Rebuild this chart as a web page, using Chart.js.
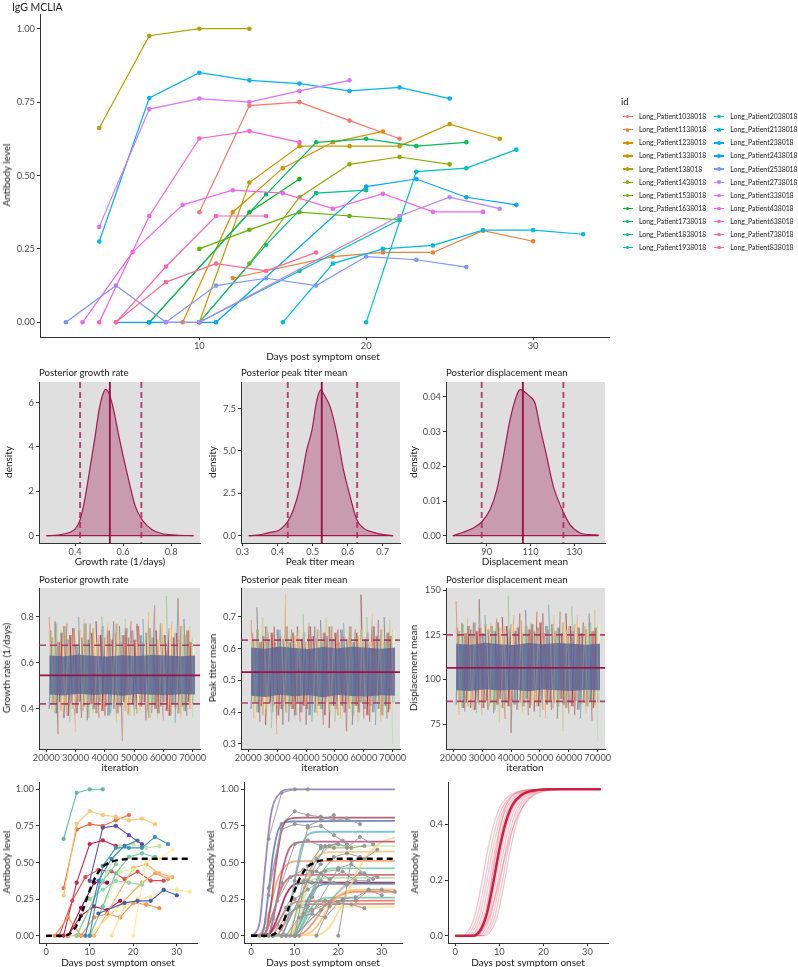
<!DOCTYPE html>
<html>
<head>
<meta charset="utf-8">
<script src="https://cdn.jsdelivr.net/npm/chart.js@4.4.1/dist/chart.umd.min.js"></script>
<style>
  body { margin: 0; background: #fff; }
  #page { position: relative; width: 798px; height: 967px; overflow: hidden; font-family: Lato, sans-serif; }
  #page canvas { position: absolute; }
  .t { position: absolute; white-space: nowrap; color: #1a1a1a; line-height: 1; }
  .leg { position: absolute; white-space: nowrap; font-size: 6.9px; color: #222; line-height: 1; }
  .key { position: absolute; width: 10px; height: 1.3px; }
  .dot { position: absolute; width: 3.6px; height: 3.6px; border-radius: 50%; }
</style>
</head>
<body>
<div id="page"></div>
<script>
// ---- patient data (top panel and bottom-left / bottom-middle panels) ----
const patientIds = [
  'Long_Patient1038018', 'Long_Patient1138018', 'Long_Patient1238018', 'Long_Patient1338018',
  'Long_Patient138018', 'Long_Patient1438018', 'Long_Patient1538018', 'Long_Patient1638018',
  'Long_Patient1738018', 'Long_Patient1838018', 'Long_Patient1938018', 'Long_Patient2038018',
  'Long_Patient2138018', 'Long_Patient238018', 'Long_Patient2438018', 'Long_Patient2538018',
  'Long_Patient2738018', 'Long_Patient338018', 'Long_Patient438018', 'Long_Patient638018',
  'Long_Patient738018', 'Long_Patient838018'
];
const patientDays = [
  [10, 13, 16, 19, 22],
  [12, 18, 21, 24, 27, 30],
  [9, 12, 15, 18, 21],
  [10, 13, 16, 19, 22, 25, 28],
  [4, 7, 10, 13],
  [10, 13, 16, 19, 22, 25],
  [10, 13, 16, 19, 22],
  [7, 13, 16],
  [7, 14, 17, 20, 23, 26],
  [10, 14, 17, 20],
  [10, 16, 22],
  [20, 23, 26, 29],
  [15, 18, 21, 24, 27, 30, 33],
  [4, 7, 10, 13, 16, 19, 22, 25],
  [5, 7, 11, 20, 23, 26, 29],
  [2, 5, 8, 11, 14, 17, 20, 23, 26],
  [8, 10, 22, 25, 28],
  [4, 7, 10, 13, 16, 19],
  [3, 6, 9, 12, 15, 18, 21, 24, 27],
  [4, 7, 10, 13, 16],
  [5, 8, 11, 14],
  [5, 8, 11, 14, 17]
];
const patientLevels = [
  [0.375, 0.738, 0.75, 0.687, 0.625],
  [0.151, 0.224, 0.238, 0.238, 0.312, 0.276],
  [0, 0.375, 0.525, 0.613, 0.65],
  [0, 0.476, 0.6, 0.6, 0.6, 0.675, 0.625],
  [0.662, 0.976, 1, 1],
  [0, 0.2, 0.426, 0.538, 0.563, 0.538],
  [0.25, 0.315, 0.375, 0.362, 0.349],
  [0, 0.375, 0.488],
  [0, 0.436, 0.613, 0.625, 0.6, 0.613],
  [0, 0.264, 0.44, 0.45],
  [0, 0.175, 0.349],
  [0, 0.513, 0.525, 0.588],
  [0, 0.2, 0.25, 0.262, 0.314, 0.314, 0.3],
  [0.275, 0.764, 0.85, 0.824, 0.813, 0.788, 0.8, 0.762],
  [0, 0, 0, 0.462, 0.488, 0.426, 0.4],
  [0, 0.125, 0, 0.125, 0.15, 0.125, 0.224, 0.213, 0.188],
  [0, 0, 0.362, 0.426, 0.387],
  [0.325, 0.726, 0.762, 0.75, 0.788, 0.824],
  [0, 0.239, 0.4, 0.45, 0.44, 0.387, 0.438, 0.376, 0.376],
  [0, 0.362, 0.626, 0.651, 0.613],
  [0, 0.19, 0.362, 0.362],
  [0, 0.137, 0.2, 0.175, 0.238]
];
const patientSpectral = [
  '#5E4FA2', '#3F60AE', '#3A7EB9', '#3D95B8', '#5CB8A6', '#70C6A4', '#96D4A4', '#85CEA4',
  '#C2E5A0', '#DCF19A', '#F2FAAE', '#FEF0A0', '#FEE493', '#FDC574', '#FDB266', '#F8904F',
  '#FA9F5B', '#F26B43', '#DF4A4E', '#C72A48', '#9E0142', '#B01A47'
];

// ---- posterior densities ----
const growthX = [0.281, 0.33, 0.37, 0.395, 0.41, 0.422, 0.44, 0.46, 0.481, 0.502, 0.515, 0.527, 0.54, 0.558, 0.586, 0.617, 0.651, 0.679, 0.721, 0.76, 0.82, 0.893];
const growthDensity = [0, 0.03, 0.12, 0.25, 0.45, 0.75, 1.6, 2.9, 4.3, 5.8, 6.35, 6.6, 6.45, 5.8, 4.3, 2.8, 1.32, 0.72, 0.27, 0.1, 0.03, 0];
const growthQuant = [0.421, 0.545, 0.676];
const peakX = [0.3176, 0.34, 0.36, 0.379, 0.403, 0.417, 0.429, 0.445, 0.464, 0.483, 0.498, 0.512, 0.524, 0.531, 0.55, 0.569, 0.588, 0.607, 0.626, 0.645, 0.673, 0.702, 0.7297];
const peakDensity = [0, 0.03, 0.1, 0.2, 0.31, 0.55, 0.84, 1.53, 2.9, 5.05, 6.23, 8.0, 8.62, 8.38, 7.6, 6.03, 3.88, 2.31, 0.94, 0.45, 0.2, 0.06, 0];
const peakQuant = [0.429, 0.526, 0.627];
const dispX = [74.5, 79.3, 83.9, 87.9, 91.5, 94.6, 97.6, 100.6, 103.7, 105.2, 106.7, 109, 112.1, 114.3, 117.4, 120.4, 124.2, 128, 132.6, 137, 141.1];
const dispDensity = [0, 0.001, 0.0022, 0.0041, 0.0075, 0.0132, 0.0228, 0.0333, 0.0405, 0.0421, 0.0417, 0.0405, 0.0381, 0.0314, 0.0228, 0.0142, 0.0079, 0.0032, 0.0008, 0.0003, 0.0002];
const dispQuant = [87.7, 106.5, 125.0];

// ---- MCMC traces (sampled extremes per iteration block) ----
const traceIterA = [21000, 22000, 23000, 24000, 25000, 26000, 27000, 28000, 29000, 30000, 31000, 32000, 33000, 34000, 35000, 36000, 37000, 38000, 39000, 40000, 41000, 42000, 43000, 44000, 45000, 46000, 47000, 48000, 49000, 50000, 51000, 52000, 53000, 54000, 55000, 56000, 57000, 58000, 59000, 60000, 61000, 62000, 63000, 64000, 65000, 66000, 67000, 68000, 69000, 70000];
const traceIterB = [21500, 22500, 23500, 24500, 25500, 26500, 27500, 28500, 29500, 30500, 31500, 32500, 33500, 34500, 35500, 36500, 37500, 38500, 39500, 40500, 41500, 42500, 43500, 44500, 45500, 46500, 47500, 48500, 49500, 50500, 51500, 52500, 53500, 54500, 55500, 56500, 57500, 58500, 59500, 60500, 61500, 62500, 63500, 64500, 65500, 66500, 67500, 68500, 69500, 70500];
const coreIter = [21000, 26000, 31000, 36000, 41000, 46000, 51000, 56000, 61000, 66000, 70800];

const growthHi = [0.80, 0.76, 0.78, 0.84, 0.74, 0.79, 0.77, 0.81, 0.75, 0.78, 0.80, 0.76, 0.79, 0.82, 0.77, 0.85, 0.78, 0.76, 0.80, 0.79, 0.77, 0.81, 0.78, 0.80, 0.76, 0.82, 0.79, 0.89, 0.78, 0.80, 0.77, 0.81, 0.79, 0.76, 0.82, 0.78, 0.85, 0.80, 0.77, 0.79, 0.89, 0.81, 0.78, 0.80, 0.88, 0.77, 0.79, 0.81, 0.76, 0.78];
const growthLo = [0.37, 0.39, 0.35, 0.29, 0.38, 0.36, 0.40, 0.34, 0.37, 0.30, 0.38, 0.36, 0.39, 0.35, 0.37, 0.38, 0.34, 0.36, 0.39, 0.37, 0.35, 0.38, 0.36, 0.34, 0.37, 0.26, 0.36, 0.38, 0.35, 0.37, 0.36, 0.39, 0.28, 0.35, 0.37, 0.38, 0.34, 0.36, 0.38, 0.35, 0.31, 0.37, 0.36, 0.34, 0.38, 0.36, 0.33, 0.37, 0.38, 0.36];
const growthHi2 = [0.74, 0.71, 0.77, 0.69, 0.73, 0.76, 0.70, 0.72, 0.75, 0.68, 0.74, 0.71, 0.77, 0.70, 0.73, 0.75, 0.69, 0.72, 0.76, 0.71, 0.74, 0.70, 0.73, 0.77, 0.69, 0.72, 0.75, 0.71, 0.74, 0.70, 0.76, 0.72, 0.69, 0.73, 0.75, 0.71, 0.74, 0.70, 0.77, 0.72, 0.69, 0.75, 0.71, 0.73, 0.70, 0.76, 0.72, 0.74, 0.69, 0.71];
const growthLo2 = [0.40, 0.42, 0.38, 0.43, 0.39, 0.41, 0.37, 0.42, 0.40, 0.38, 0.43, 0.39, 0.41, 0.36, 0.42, 0.40, 0.38, 0.43, 0.39, 0.41, 0.37, 0.42, 0.40, 0.38, 0.41, 0.43, 0.39, 0.37, 0.42, 0.40, 0.38, 0.41, 0.43, 0.39, 0.36, 0.42, 0.40, 0.38, 0.41, 0.43, 0.39, 0.37, 0.42, 0.40, 0.38, 0.41, 0.39, 0.43, 0.40, 0.42];
const growthCoreLo = [0.462, 0.458, 0.465, 0.460, 0.463, 0.457, 0.464, 0.461, 0.459, 0.463, 0.462];
const growthCoreHi = [0.632, 0.628, 0.635, 0.630, 0.627, 0.633, 0.629, 0.634, 0.631, 0.628, 0.632];

const peakHi = [0.69, 0.67, 0.73, 0.66, 0.70, 0.68, 0.65, 0.71, 0.67, 0.69, 0.66, 0.72, 0.77, 0.68, 0.66, 0.70, 0.67, 0.69, 0.71, 0.66, 0.68, 0.70, 0.67, 0.74, 0.69, 0.66, 0.70, 0.68, 0.67, 0.71, 0.66, 0.69, 0.68, 0.70, 0.67, 0.72, 0.66, 0.69, 0.77, 0.68, 0.70, 0.67, 0.71, 0.66, 0.69, 0.68, 0.70, 0.67, 0.69, 0.68];
const peakLo = [0.36, 0.38, 0.34, 0.37, 0.39, 0.36, 0.38, 0.35, 0.37, 0.33, 0.38, 0.36, 0.39, 0.37, 0.35, 0.38, 0.31, 0.37, 0.39, 0.36, 0.38, 0.37, 0.35, 0.39, 0.37, 0.36, 0.38, 0.35, 0.39, 0.37, 0.36, 0.38, 0.37, 0.34, 0.38, 0.36, 0.39, 0.37, 0.36, 0.38, 0.35, 0.37, 0.39, 0.36, 0.38, 0.37, 0.35, 0.38, 0.36, 0.30];
const peakHi2 = [0.65, 0.63, 0.66, 0.62, 0.64, 0.67, 0.63, 0.65, 0.62, 0.66, 0.64, 0.63, 0.67, 0.62, 0.65, 0.64, 0.66, 0.63, 0.65, 0.62, 0.67, 0.64, 0.63, 0.66, 0.62, 0.65, 0.64, 0.67, 0.63, 0.65, 0.62, 0.66, 0.64, 0.63, 0.67, 0.62, 0.65, 0.64, 0.66, 0.63, 0.65, 0.62, 0.67, 0.64, 0.63, 0.66, 0.62, 0.65, 0.64, 0.66];
const peakLo2 = [0.41, 0.43, 0.40, 0.42, 0.39, 0.41, 0.43, 0.40, 0.42, 0.39, 0.41, 0.43, 0.40, 0.42, 0.41, 0.39, 0.43, 0.40, 0.42, 0.41, 0.39, 0.43, 0.40, 0.42, 0.41, 0.39, 0.43, 0.40, 0.42, 0.41, 0.39, 0.42, 0.40, 0.43, 0.41, 0.39, 0.42, 0.40, 0.43, 0.41, 0.39, 0.42, 0.40, 0.43, 0.41, 0.39, 0.42, 0.40, 0.41, 0.43];
const peakCoreLo = [0.452, 0.448, 0.455, 0.450, 0.453, 0.447, 0.454, 0.451, 0.449, 0.453, 0.452];
const peakCoreHi = [0.604, 0.600, 0.607, 0.602, 0.599, 0.605, 0.601, 0.606, 0.603, 0.600, 0.604];

const dispHi = [144, 136, 132, 138, 134, 137, 131, 135, 145, 133, 136, 139, 132, 137, 134, 143, 135, 138, 147, 133, 136, 131, 137, 135, 139, 134, 132, 136, 138, 133, 137, 135, 142, 134, 136, 133, 138, 135, 137, 134, 141, 133, 136, 138, 132, 135, 137, 134, 139, 136];
const dispLo = [74, 80, 78, 82, 77, 84, 79, 81, 73, 80, 78, 83, 77, 81, 79, 76, 82, 78, 80, 70, 79, 83, 77, 81, 78, 80, 76, 82, 73, 79, 81, 78, 77, 83, 80, 78, 82, 71, 79, 81, 77, 80, 83, 78, 79, 81, 80, 77, 79, 65];
const dispHi2 = [129, 127, 131, 126, 130, 128, 132, 127, 129, 126, 131, 128, 130, 127, 132, 129, 126, 130, 128, 131, 127, 129, 133, 126, 130, 128, 131, 127, 129, 132, 126, 130, 128, 131, 127, 129, 126, 132, 128, 130, 127, 131, 129, 126, 130, 128, 132, 127, 129, 131];
const dispLo2 = [86, 88, 84, 87, 85, 89, 83, 87, 86, 84, 88, 85, 87, 83, 86, 89, 84, 87, 85, 88, 86, 83, 87, 85, 89, 84, 86, 88, 85, 87, 83, 86, 88, 84, 87, 85, 89, 86, 84, 87, 85, 88, 83, 86, 87, 85, 88, 84, 86, 87];
const dispCoreLo = [94.0, 93.5, 94.5, 93.8, 94.2, 93.4, 94.4, 93.9, 93.6, 94.3, 94.0];
const dispCoreHi = [120.0, 119.5, 120.6, 119.8, 119.3, 120.4, 119.7, 120.5, 120.1, 119.5, 120.0];

// ---- fitted curves (control points [day, level]) ----
const meanCurve = [[0, 0], [4, 0], [5.5, 0.015], [7, 0.07], [8.5, 0.18], [10, 0.31], [11.5, 0.41], [13, 0.47], [15, 0.505], [18, 0.522], [22, 0.526], [33, 0.526]];
const fitCurves = [
  [[0, 0], [1, 0.02], [2, 0.1], [3.3, 0.5], [4.5, 0.82], [6.5, 0.97], [9, 1], [33, 1]],
  [[0, 0], [3, 0.01], [4.5, 0.2], [5.5, 0.45], [7, 0.72], [9, 0.8], [12, 0.807], [33, 0.807]],
  [[0, 0], [2.5, 0.01], [4, 0.3], [5, 0.55], [6.5, 0.74], [9, 0.78], [33, 0.785]],
  [[0, 0], [7, 0.005], [8.5, 0.12], [10, 0.38], [11.5, 0.6], [13, 0.69], [16, 0.71], [33, 0.71]],
  [[0, 0], [4, 0.01], [5.5, 0.18], [7, 0.42], [8.5, 0.58], [10, 0.63], [13, 0.642], [33, 0.642]],
  [[0, 0], [15, 0.005], [18, 0.06], [21, 0.22], [24, 0.42], [27, 0.56], [30, 0.64], [33, 0.67]],
  [[0, 0], [9, 0.005], [11, 0.1], [13, 0.35], [15, 0.55], [17, 0.605], [20, 0.614], [33, 0.614]],
  [[0, 0], [9, 0.01], [11, 0.15], [13, 0.4], [15, 0.53], [18, 0.57], [33, 0.574]],
  [[0, 0], [2, 0.01], [4, 0.15], [6, 0.38], [8, 0.48], [11, 0.51], [33, 0.512]],
  [[0, 0], [10, 0.005], [12, 0.1], [14, 0.3], [16, 0.43], [19, 0.46], [33, 0.46]],
  [[0, 0], [3, 0.01], [5, 0.15], [7, 0.33], [9, 0.4], [12, 0.415], [33, 0.415]],
  [[0, 0], [8, 0.005], [10, 0.12], [12, 0.3], [14, 0.38], [17, 0.395], [33, 0.395]],
  [[0, 0], [9, 0.005], [11, 0.08], [13, 0.25], [15, 0.33], [18, 0.354], [33, 0.354]],
  [[0, 0], [12, 0.005], [15, 0.06], [18, 0.2], [21, 0.29], [25, 0.315], [33, 0.317]],
  [[0, 0], [10, 0.005], [12, 0.08], [14, 0.2], [16, 0.25], [19, 0.26], [33, 0.26]],
  [[0, 0], [6, 0.01], [8, 0.1], [10, 0.18], [13, 0.215], [33, 0.218]],
  [[0, 0], [8, 0.005], [10, 0.06], [12, 0.15], [14, 0.19], [33, 0.195]],
  [[0, 0], [11, 0.005], [14, 0.08], [17, 0.2], [20, 0.27], [24, 0.3], [33, 0.3]],
  [[0, 0], [4, 0.01], [6, 0.12], [8, 0.28], [10, 0.35], [13, 0.362], [33, 0.362]],
  [[0, 0], [4, 0.01], [6, 0.08], [8, 0.18], [11, 0.235], [33, 0.24]]
];
const fitColors = ['#7E6BB5', '#A8375E', '#4F6DB0', '#66B3C4', '#B8386A', '#FDD780', '#C9E99F', '#FDC272', '#F79A5A', '#66C2A5',
  '#D94A55', '#ABDDA4', '#3E8BC0', '#FDB56A', '#5FBFA0', '#E8695A', '#FEE79A', '#F57D4E', '#9E0142', '#E46050'];
const postCurves = [
  [[0, 0], [1.4, 0], [2.9, 0.015], [4.4, 0.07], [5.9, 0.18], [7.4, 0.31], [8.9, 0.41], [10.4, 0.47], [12.4, 0.505], [15.4, 0.522], [19.4, 0.526], [33, 0.526]],
  [[0, 0], [2, 0], [3.5, 0.015], [5, 0.07], [6.5, 0.18], [8, 0.31], [9.5, 0.41], [11, 0.47], [13, 0.505], [16, 0.522], [20, 0.526], [33, 0.526]],
  [[0, 0], [2.5, 0], [4, 0.015], [5.5, 0.07], [7, 0.18], [8.5, 0.31], [10, 0.41], [11.5, 0.47], [13.5, 0.505], [16.5, 0.522], [20.5, 0.526], [33, 0.526]],
  [[0, 0], [3, 0], [4.5, 0.015], [6, 0.07], [7.5, 0.18], [9, 0.31], [10.5, 0.41], [12, 0.47], [14, 0.505], [17, 0.522], [21, 0.526], [33, 0.526]],
  [[0, 0], [3.5, 0], [5, 0.015], [6.5, 0.07], [8, 0.18], [9.5, 0.31], [11, 0.41], [12.5, 0.47], [14.5, 0.505], [17.5, 0.522], [21.5, 0.526], [33, 0.526]],
  [[0, 0], [4.5, 0], [6, 0.02], [7.2, 0.09], [8.4, 0.22], [9.6, 0.34], [10.8, 0.43], [12, 0.485], [14, 0.515], [17, 0.525], [33, 0.526]],
  [[0, 0], [4.5, 0], [6, 0.015], [7.5, 0.07], [9, 0.18], [10.5, 0.31], [12, 0.41], [13.5, 0.47], [15.5, 0.505], [18.5, 0.522], [22.5, 0.526], [33, 0.526]],
  [[0, 0], [3.5, 0], [5.5, 0.012], [7.3, 0.05], [9.1, 0.14], [10.9, 0.26], [12.7, 0.37], [14.5, 0.44], [17, 0.495], [20, 0.518], [25, 0.526], [33, 0.526]],
  [[0, 0], [5, 0], [6.5, 0.015], [8, 0.07], [9.5, 0.18], [11, 0.31], [12.5, 0.41], [14, 0.47], [16, 0.505], [19, 0.522], [23, 0.526], [33, 0.526]],
  [[0, 0], [5.5, 0], [7, 0.015], [8.5, 0.07], [10, 0.18], [11.5, 0.31], [13, 0.41], [14.5, 0.47], [16.5, 0.505], [19.5, 0.522], [23.5, 0.526], [33, 0.526]],
  [[0, 0], [6, 0], [7.5, 0.015], [9, 0.07], [10.5, 0.18], [12, 0.31], [13.5, 0.41], [15, 0.47], [17, 0.505], [20, 0.522], [24, 0.526], [33, 0.526]],
  [[0, 0], [6.5, 0], [8, 0.015], [9.5, 0.07], [11, 0.18], [12.5, 0.31], [14, 0.41], [15.5, 0.47], [17.5, 0.505], [20.5, 0.522], [24.5, 0.526], [33, 0.526]]
];

// ---- ticks ----
const levelTicks = [0, 0.25, 0.5, 0.75, 1];
const levelLabels = ['0.00', '0.25', '0.50', '0.75', '1.00'];
const dayTicks = [0, 10, 20, 30];
const iterTicks = [20000, 30000, 40000, 50000, 60000, 70000];

const spectral = ['#9E0142', '#D53E4F', '#F46D43', '#FDAE61', '#FEE08B', '#FFFFBF', '#E6F598', '#ABDDA4', '#66C2A5', '#3288BD', '#5E4FA2'];

// ---------- helpers ----------
Chart.defaults.font.family = 'Lato, sans-serif';
const page = document.getElementById('page');
const PAD_L = 46, PAD_T = 8, PAD_R = 24, X_H = 14;

// ggplot-style hue palette (hcl with c = 100, l = 65)
function hueColor(i, n) {
  const h = (15 + 360 * i / n) * Math.PI / 180, c = 100, l = 65;
  const Y = 100 * Math.pow((l + 16) / 116, 3);
  const u = c * Math.cos(h) / (13 * l) + 0.19784, v = c * Math.sin(h) / (13 * l) + 0.46834;
  const X = 9 * Y * u / (4 * v), Z = Y * (12 - 3 * u - 20 * v) / (4 * v);
  const lin = [
    (3.240479 * X - 1.537150 * Y - 0.498535 * Z) / 100,
    (-0.969256 * X + 1.875992 * Y + 0.041556 * Z) / 100,
    (0.055648 * X - 0.204043 * Y + 1.057311 * Z) / 100
  ];
  const rgb = lin.map(k => {
    const g = k <= 0.0031308 ? 12.92 * k : 1.055 * Math.pow(k, 1 / 2.4) - 0.055;
    return Math.round(Math.min(1, Math.max(0, g)) * 255);
  });
  return `rgb(${rgb.join(',')})`;
}

function alpha(hex, a) {
  const n = parseInt(hex.slice(1), 16);
  return `rgba(${n >> 16},${(n >> 8) & 255},${n & 255},${a})`;
}

function pts(xs, ys) { return xs.map((x, i) => ({ x, y: ys[i] })); }
function pairs(arr) { return arr.map(p => ({ x: p[0], y: p[1] })); }
// chain path alternating between the recorded high and low draws
function zigzag(xs, a, b) { return xs.map((x, i) => ({ x, y: i % 2 ? b[i] : a[i] })); }

function txt(s, x, y, o = {}) {
  const d = document.createElement('div');
  d.className = 't';
  d.textContent = s;
  d.style.left = x + 'px';
  d.style.top = y + 'px';
  d.style.fontSize = (o.size || 10) + 'px';
  const anchor = o.left ? 'translate(0,-50%)' : 'translate(-50%,-50%)';
  d.style.transform = anchor + (o.rot ? ' rotate(-90deg)' : '');
  page.appendChild(d);
}

const panelBg = {
  id: 'panelBg',
  beforeDraw(chart, args, o) {
    if (!o.color) return;
    const { ctx, chartArea: a } = chart;
    ctx.save();
    ctx.fillStyle = o.color;
    ctx.fillRect(a.left, a.top, a.width, a.height);
    ctx.restore();
  }
};

// median (solid) and 95% interval (dashed) lines
const refLines = {
  id: 'refLines',
  afterDatasetsDraw(chart, args, o) {
    if (!o.values) return;
    const { ctx, chartArea: a } = chart;
    const sc = o.axis === 'x' ? chart.scales.x : chart.scales.y;
    o.values.forEach((v, i) => {
      const p = sc.getPixelForValue(v);
      const solid = i === 1;
      ctx.save();
      ctx.strokeStyle = solid ? '#9C1247' : 'rgba(170,40,90,0.85)';
      ctx.lineWidth = o.width || 1.8;
      ctx.setLineDash(solid ? [] : o.dash);
      ctx.beginPath();
      if (o.axis === 'x') { ctx.moveTo(p, a.top); ctx.lineTo(p, a.bottom); }
      else { ctx.moveTo(a.left, p); ctx.lineTo(a.right, p); }
      ctx.stroke();
      ctx.restore();
    });
  }
};

function axis(r, isY) {
  return {
    type: 'linear', min: r.min, max: r.max, offset: false,
    afterBuildTicks: s => { s.ticks = r.ticks.map(v => ({ value: v })); },
    afterFit: s => { if (isY) s.width = PAD_L; else s.height = X_H; },
    ticks: {
      autoSkip: false, maxRotation: 0, padding: isY ? 2 : 0, color: '#4d4d4d',
      font: { size: 9.3 },
      callback: (v, i) => (r.labels ? r.labels[i] : String(r.ticks[i]))
    },
    grid: { display: true, drawOnChartArea: false, drawTicks: true, tickLength: 3, color: '#333', offset: false },
    border: { display: true, color: '#333', width: 1 }
  };
}

function panel(box, type, datasets, xr, yr, extra = {}) {
  const cv = document.createElement('canvas');
  const w = (box.r - box.l) + PAD_L + PAD_R;
  const h = (box.b - box.t) + PAD_T + X_H;
  cv.width = w; cv.height = h;
  cv.style.left = (box.l - PAD_L) + 'px';
  cv.style.top = (box.t - PAD_T) + 'px';
  page.appendChild(cv);
  return new Chart(cv, {
    type,
    data: { datasets },
    options: {
      responsive: false, animation: false, events: [],
      layout: { padding: { left: 0, top: PAD_T, right: PAD_R, bottom: 0 } },
      plugins: {
        legend: { display: false }, tooltip: { enabled: false },
        panelBg: { color: extra.bg || null },
        refLines: extra.ref || {}
      },
      scales: { x: axis(xr, false), y: axis(yr, true) }
    },
    plugins: [panelBg, refLines]
  });
}

// ---------- top panel: IgG MCLIA ----------
const hueColors = patientIds.map((_, i) => hueColor(i, patientIds.length));
panel({ l: 40, t: 14, r: 609, b: 337 }, 'line',
  patientIds.map((id, i) => ({
    label: id,
    data: pts(patientDays[i], patientLevels[i]),
    borderColor: hueColors[i], backgroundColor: hueColors[i],
    borderWidth: 1.2, pointRadius: 1.7, tension: 0, order: -i
  })),
  { min: 0.45, max: 34.55, ticks: [10, 20, 30] },
  { min: -0.05, max: 1.05, ticks: levelTicks, labels: levelLabels });

txt('IgG MCLIA', 12, 7, { left: true, size: 10.5 });
txt('Antibody level', 6, 175, { rot: true });
txt('Days post symptom onset', 323, 356);

// legend
txt('id', 621, 101.5, { left: true, size: 9.5 });
patientIds.forEach((id, i) => {
  const col = Math.floor(i / 11), row = i % 11;
  const kx = 627.5 + col * 91.3, ky = 116.7 + row * 13.1;
  const k = document.createElement('div');
  k.className = 'key';
  k.style.left = (kx - 5) + 'px'; k.style.top = (ky - 0.65) + 'px';
  k.style.background = hueColors[i];
  page.appendChild(k);
  const d = document.createElement('div');
  d.className = 'dot';
  d.style.left = (kx - 1.8) + 'px'; d.style.top = (ky - 1.8) + 'px';
  d.style.background = hueColors[i];
  page.appendChild(d);
  const t = document.createElement('div');
  t.className = 'leg';
  t.textContent = id;
  t.style.left = (kx + 11.5) + 'px'; t.style.top = (ky - 3.6) + 'px';
  page.appendChild(t);
});

// ---------- density row ----------
const cols = [{ l: 39, r: 200 }, { l: 241, r: 400 }, { l: 446, r: 605 }];
const densBox = c => ({ l: c.l, r: c.r, t: 382, b: 543 });
const traceBox = c => ({ l: c.l, r: c.r, t: 588, b: 749 });

function densitySets(xs, ys) {
  return [
    {
      data: pts(xs, ys), borderColor: '#A01A4E', borderWidth: 1.2,
      backgroundColor: 'rgba(158,20,72,0.33)', fill: 'origin',
      pointRadius: 0, cubicInterpolationMode: 'monotone'
    },
    {
      data: [{ x: xs[0], y: 0 }, { x: xs[xs.length - 1], y: 0 }],
      borderColor: '#A01A4E', borderWidth: 1.2, pointRadius: 0, fill: false
    }
  ];
}
const densRef = q => ({ axis: 'x', values: q, dash: [6, 4], width: 1.9 });

panel(densBox(cols[0]), 'line', densitySets(growthX, growthDensity),
  { min: 0.25, max: 0.92, ticks: [0.4, 0.6, 0.8], labels: ['0.4', '0.6', '0.8'] },
  { min: -0.33, max: 6.93, ticks: [0, 2, 4, 6] },
  { bg: '#DFDFDF', ref: densRef(growthQuant) });
panel(densBox(cols[1]), 'line', densitySets(peakX, peakDensity),
  { min: 0.2955, max: 0.7493, ticks: [0.3, 0.4, 0.5, 0.6, 0.7], labels: ['0.3', '0.4', '0.5', '0.6', '0.7'] },
  { min: -0.43, max: 9.07, ticks: [0, 2.5, 5, 7.5], labels: ['0.0', '2.5', '5.0', '7.5'] },
  { bg: '#DFDFDF', ref: densRef(peakQuant) });
panel(densBox(cols[2]), 'line', densitySets(dispX, dispDensity),
  { min: 71.4, max: 144, ticks: [90, 110, 130] },
  { min: -0.0021, max: 0.0443, ticks: [0, 0.01, 0.02, 0.03, 0.04], labels: ['0.00', '0.01', '0.02', '0.03', '0.04'] },
  { bg: '#DFDFDF', ref: densRef(dispQuant) });

txt('Posterior growth rate', 39, 373, { left: true, size: 9.6 });
txt('Posterior peak titer mean', 241, 373, { left: true, size: 9.6 });
txt('Posterior displacement mean', 446, 373, { left: true, size: 9.6 });
txt('density', 7.5, 462, { rot: true });
txt('density', 212, 462, { rot: true });
txt('density', 413, 462, { rot: true });
txt('Growth rate (1/days)', 120, 561);
txt('Peak titer mean', 320, 561);
txt('Displacement mean', 525, 561);

// ---------- trace row ----------
function chain(data, k, off, a, w) {
  return {
    data, borderWidth: w, pointRadius: 0, tension: 0, fill: false,
    borderColor: alpha(spectral[off], a),
    segment: { borderColor: c => alpha(spectral[(c.p0DataIndex * k + off) % 11], a) }
  };
}
function traceSets(hi, lo, hi2, lo2, coreLo, coreHi) {
  return [
    chain(zigzag(traceIterB, hi2, lo2), 2, 6, 0.16, 1.2),
    { data: pts(coreIter, coreLo), borderWidth: 0, pointRadius: 0, fill: false },
    {
      data: pts(coreIter, coreHi), borderWidth: 0, pointRadius: 0,
      fill: '-1', backgroundColor: 'rgba(92,102,150,0.86)'
    },
    chain(zigzag(traceIterA, lo2, hi2), 5, 9, 0.6, 1.4),
    chain(zigzag(traceIterB, lo2, hi2), 3, 4, 0.6, 1.4),
    chain(zigzag(traceIterB, hi2, lo2), 7, 1, 0.55, 1.3),
    chain(zigzag(traceIterA, hi2, lo2), 6, 7, 0.5, 1.3),
    chain(zigzag(traceIterA, hi, lo), 4, 2, 0.6, 1.1)
  ];
}
const iterAxis = { min: 17500, max: 72500, ticks: iterTicks };
const traceRef = q => ({ axis: 'y', values: q, dash: [7, 4], width: 1.6 });

panel(traceBox(cols[0]), 'line', traceSets(growthHi, growthLo, growthHi2, growthLo2, growthCoreLo, growthCoreHi),
  iterAxis, { min: 0.225, max: 0.925, ticks: [0.4, 0.6, 0.8], labels: ['0.4', '0.6', '0.8'] },
  { bg: '#DFDFDF', ref: traceRef(growthQuant) });
panel(traceBox(cols[1]), 'line', traceSets(peakHi, peakLo, peakHi2, peakLo2, peakCoreLo, peakCoreHi),
  iterAxis, { min: 0.284, max: 0.791, ticks: [0.3, 0.4, 0.5, 0.6, 0.7], labels: ['0.3', '0.4', '0.5', '0.6', '0.7'] },
  { bg: '#DFDFDF', ref: traceRef(peakQuant) });
panel(traceBox(cols[2]), 'line', traceSets(dispHi, dispLo, dispHi2, dispLo2, dispCoreLo, dispCoreHi),
  iterAxis, { min: 61, max: 151.3, ticks: [75, 100, 125, 150] },
  { bg: '#DFDFDF', ref: traceRef(dispQuant) });

txt('Posterior growth rate', 39, 579.5, { left: true, size: 9.6 });
txt('Posterior peak titer mean', 241, 579.5, { left: true, size: 9.6 });
txt('Posterior displacement mean', 446, 579.5, { left: true, size: 9.6 });
txt('Growth rate (1/days)', 6, 668, { rot: true });
txt('Peak titer mean', 212, 668, { rot: true });
txt('Displacement mean', 412.5, 668, { rot: true });
txt('iteration', 120, 767);
txt('iteration', 320, 767);
txt('iteration', 525, 767);

// ---------- bottom row ----------
const dayAxis = { min: -1.65, max: 34.65, ticks: dayTicks };
const levelAxis = { min: -0.05, max: 1.05, ticks: levelTicks, labels: levelLabels };
const meanDashed = {
  data: pairs(meanCurve), borderColor: '#000', borderWidth: 2.4, borderDash: [6, 4],
  pointRadius: 0, cubicInterpolationMode: 'monotone', fill: false
};

// observed data coloured by patient, with posterior mean curve
panel({ l: 39, r: 197, t: 782, b: 943 }, 'line',
  [meanDashed].concat(patientIds.map((id, i) => ({
    data: pts(patientDays[i], patientLevels[i]),
    borderColor: patientSpectral[i], backgroundColor: patientSpectral[i],
    borderWidth: 1.1, pointRadius: 1.6, tension: 0
  }))),
  dayAxis, levelAxis);

// individual fitted curves with observed data in grey
panel({ l: 244, r: 402, t: 782, b: 943 }, 'line',
  [meanDashed]
    .concat(patientIds.map((id, i) => ({
      data: pts(patientDays[i], patientLevels[i]),
      borderColor: 'rgba(150,150,150,0.9)', backgroundColor: 'rgba(150,150,150,0.95)',
      borderWidth: 1, pointRadius: 1.6, tension: 0
    })))
    .concat(fitCurves.map((c, i) => ({
      data: pairs(c), borderColor: alpha(fitColors[i], 0.8), borderWidth: 1.8,
      pointRadius: 0, cubicInterpolationMode: 'monotone', fill: false
    }))),
  dayAxis, levelAxis);

// posterior draws of the population curve
panel({ l: 448, r: 608, t: 782, b: 943 }, 'line',
  [{
    data: pairs(meanCurve), borderColor: '#CF2145', borderWidth: 2.6,
    pointRadius: 0, cubicInterpolationMode: 'monotone', fill: false
  }].concat(postCurves.map(c => ({
    data: pairs(c), borderColor: 'rgba(214,50,80,0.28)', borderWidth: 1.3,
    pointRadius: 0, cubicInterpolationMode: 'monotone', fill: false
  }))),
  dayAxis,
  { min: -0.0263, max: 0.5523, ticks: [0, 0.2, 0.4], labels: ['0.0', '0.2', '0.4'] });

txt('Antibody level', 6, 862, { rot: true });
txt('Antibody level', 210, 862, { rot: true });
txt('Antibody level', 414, 862, { rot: true });
txt('Days post symptom onset', 118, 961.5);
txt('Days post symptom onset', 323, 961.5);
txt('Days post symptom onset', 528, 961.5);
</script>
</body>
</html>
